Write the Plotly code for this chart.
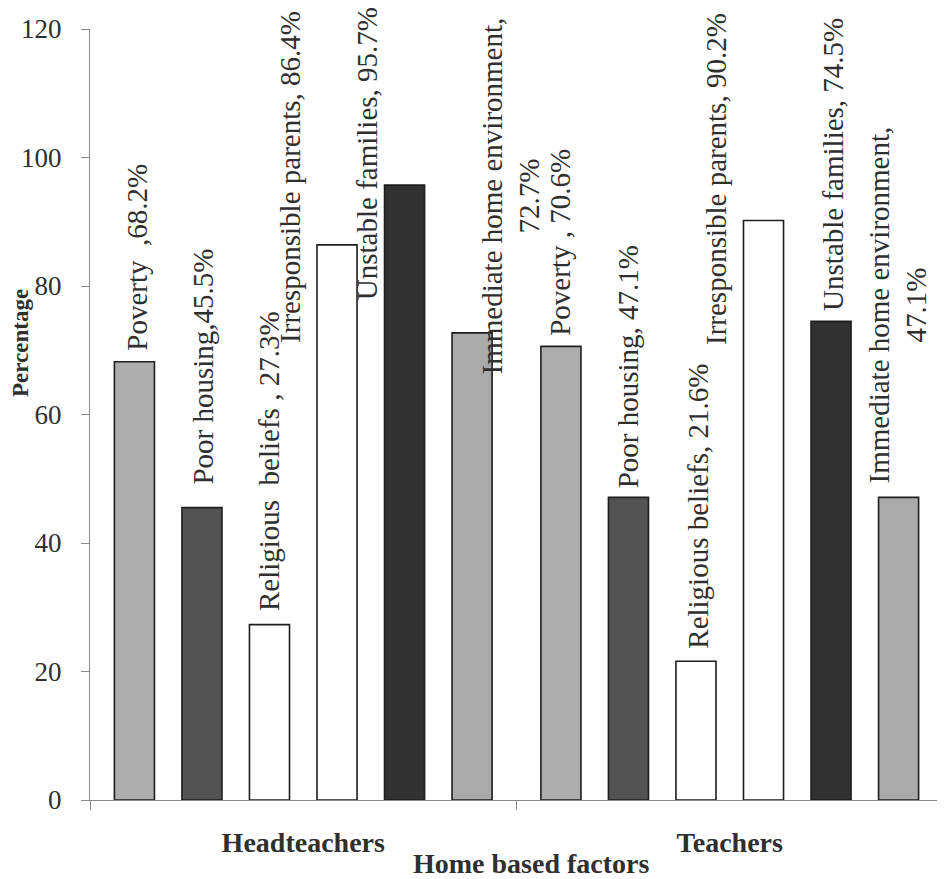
import plotly.graph_objects as go

# ---------------- data ----------------
groups = ["Headteachers", "Teachers"]
factors = ["Poverty", "Poor housing", "Religious beliefs",
           "Irresponsible parents", "Unstable families",
           "Immediate home environment"]
headteachers = [68.2, 45.5, 27.3, 86.4, 95.7, 72.7]
teachers = [70.6, 47.1, 21.6, 90.2, 74.5, 47.1]
headteacher_labels = ["Poverty\u00a0\u00a0,68.2%", "Poor housing,45.5%",
                      "Religious\u00a0\u00a0beliefs , 27.3%",
                      "Irresponsible parents, 86.4%",
                      "Unstable families, 95.7%",
                      "Immediate home environment,<br>72.7%"]
teacher_labels = ["Poverty , 70.6%", "Poor housing, 47.1%",
                  "Religious beliefs, 21.6%",
                  "Irresponsible parents, 90.2%",
                  "Unstable families, 74.5%",
                  "Immediate home environment,<br>47.1%"]
y_ticks = [0, 20, 40, 60, 80, 100, 120]
x_title = "Home based factors"
y_title = "Percentage"

# ---------------- style ----------------
colors = ["#adadad", "#535353", "#ffffff", "#ffffff", "#313131", "#aaaaaa"]
FONT = "Liberation Serif"
TXT = "#2f2f2f"
AX = "#8a8a8a"
OFF = 8                      # page body margin of the browser
W, H = 945 - OFF, 879 - OFF
ML, MR, MT, MB = 90 - OFF, 2, 29 - OFF, 79
BARGAP, GROUPGAP = 0.05, 0.407
plot_w = W - ML - MR
plot_h = H - MT - MB
slot = plot_w / len(groups) * (1 - BARGAP) / len(factors)

# label nudges in pixels (dx, dy): dy measured from bar top
head_off = [(3, 9), (1, 21), (-1, 12), (-47, -100), (-38, -117), (39, -44)]
teach_off = [(-1, 9), (-1, 7), (2, 11), (-47, -127), (2, 8), (-1, 12)]

fig = go.Figure()
for i, f in enumerate(factors):
    fig.add_trace(go.Bar(
        x=groups, y=[headteachers[i], teachers[i]], name=f,
        marker=dict(color=colors[i], line=dict(color="#1e1e1e", width=1.6)),
        showlegend=False, hoverinfo="skip"))

annotations = []
for g, vals, labs, offs in [(groups[0], headteachers, headteacher_labels, head_off),
                            (groups[1], teachers, teacher_labels, teach_off)]:
    for i in range(len(factors)):
        dx, dy = offs[i]
        annotations.append(dict(
            x=g, y=vals[i], xref="x", yref="y", text=labs[i],
            showarrow=False, textangle=-90, xanchor="center", yanchor="bottom",
            xshift=(i - 2.5) * slot + dx, yshift=dy, align="center",
            font=dict(family=FONT, size=29, color=TXT)))

# page-pixel positions of the axis titles converted to paper coords
annotations.append(dict(
    x=(531 - 90) / plot_w, y=-(863 - 800) / plot_h,
    xref="paper", yref="paper", text="<b>" + x_title + "</b>", showarrow=False,
    xanchor="center", yanchor="middle",
    font=dict(family=FONT, size=28, color=TXT)))
annotations.append(dict(
    x=(20 - 90) / plot_w, y=(800 - 343) / plot_h,
    xref="paper", yref="paper", text="<b>" + y_title + "</b>", showarrow=False,
    textangle=-90, xanchor="center", yanchor="middle",
    font=dict(family=FONT, size=23, color=TXT)))

fig.update_layout(
    width=W, height=H,
    margin=dict(l=ML, r=MR, t=MT, b=MB, autoexpand=False),
    paper_bgcolor="white", plot_bgcolor="white",
    barmode="group", bargap=BARGAP, bargroupgap=GROUPGAP,
    font=dict(family=FONT, color=TXT),
    annotations=annotations,
    xaxis=dict(type="category", range=[-0.5, 1.5], tickson="boundaries",
               ticks="outside", ticklen=9, tickcolor=AX, tickwidth=1,
               showline=True, linecolor=AX, linewidth=1, showgrid=False,
               tickfont=dict(family=FONT, size=28, color=TXT),
               ticklabelstandoff=17, tickprefix="<b>", ticksuffix="</b>"),
    yaxis=dict(range=[0, 120], tickvals=y_ticks, ticks="outside", ticklen=8,
               tickcolor=AX, tickwidth=1, showline=True, linecolor=AX,
               linewidth=1, showgrid=False, zeroline=False,
               tickfont=dict(family=FONT, size=27, color=TXT),
               ticklabelstandoff=14),
)

fig.write_html("out.html")
